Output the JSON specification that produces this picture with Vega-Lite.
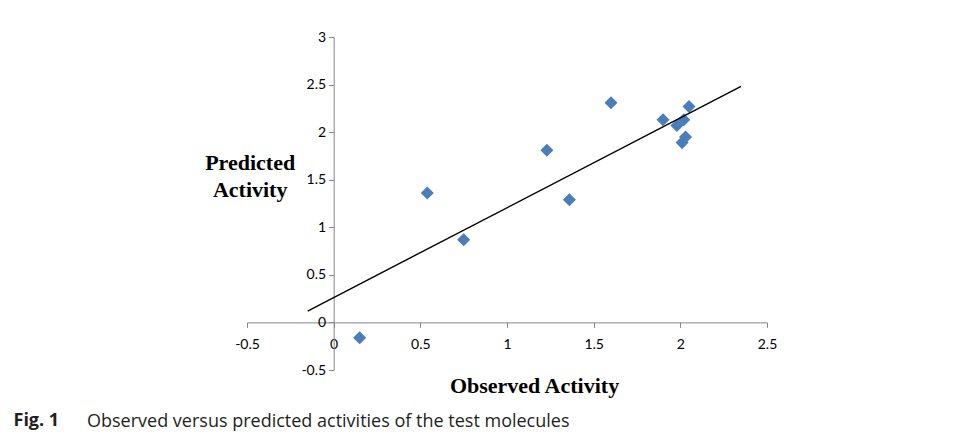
{
  "$schema": "https://vega.github.io/schema/vega-lite/v6.json",
  "width": 520,
  "height": 333,
  "autosize": "none",
  "padding": {"left": 247, "top": 37, "right": 191, "bottom": 64},
  "background": "white",
  "config": {"view": {"stroke": null}},
  "title": {
    "text": "Observed versus predicted activities of the test molecules",
    "orient": "bottom",
    "anchor": "start",
    "frame": "group",
    "dx": -160,
    "offset": -16,
    "font": "Open Sans",
    "fontSize": 18,
    "fontWeight": "normal",
    "color": "#231f20"
  },
  "resolve": {"axis": {"x": "independent"}},
  "layer": [
    {
      "data": {"values": [
        {"observed": 0.15, "predicted": -0.16},
        {"observed": 0.54, "predicted": 1.36},
        {"observed": 0.75, "predicted": 0.87},
        {"observed": 1.23, "predicted": 1.81},
        {"observed": 1.36, "predicted": 1.29},
        {"observed": 1.6, "predicted": 2.31},
        {"observed": 1.9, "predicted": 2.13},
        {"observed": 1.98, "predicted": 2.07},
        {"observed": 2.02, "predicted": 2.13},
        {"observed": 2.05, "predicted": 2.27},
        {"observed": 2.01, "predicted": 1.89},
        {"observed": 2.03, "predicted": 1.95}
      ]},
      "mark": {"type": "point", "shape": "diamond", "filled": true, "size": 170, "color": "#4A7EBB", "opacity": 1},
      "encoding": {
        "x": {
          "field": "observed", "type": "quantitative",
          "scale": {"domain": [-0.5, 2.5], "nice": false, "zero": false},
          "axis": {
            "title": "Observed Activity",
            "orient": "bottom",
            "values": [-0.5, 0, 0.5, 1, 1.5, 2, 2.5],
            "labelExpr": "'' + datum.value",
            "offset": -47.6,
            "grid": false,
            "domainColor": "#868686",
            "tickColor": "#868686",
            "tickSize": 5,
            "labelFont": "Lato",
            "labelFontSize": 14,
            "labelColor": "black",
            "labelPadding": 10,
            "labelFlush": false,
            "labelOverlap": false,
            "titleFont": "Liberation Serif",
            "titleFontSize": 22,
            "titleFontWeight": "bold",
            "titleColor": "black",
            "titleX": 287,
            "titleY": 62.6,
            "titleAlign": "center",
            "titleBaseline": "middle"
          }
        },
        "y": {
          "field": "predicted", "type": "quantitative",
          "scale": {"domain": [-0.5, 3], "nice": false, "zero": false},
          "axis": {
            "title": ["Predicted", "Activity"],
            "values": [-0.5, 0, 0.5, 1, 1.5, 2, 2.5, 3],
            "labelExpr": "'' + datum.value",
            "offset": -86.67,
            "grid": false,
            "domainColor": "#868686",
            "tickColor": "#868686",
            "tickSize": 5,
            "labelFont": "Lato",
            "labelFontSize": 14,
            "labelColor": "black",
            "labelPadding": 3,
            "labelFlush": false,
            "labelOverlap": false,
            "titleFont": "Liberation Serif",
            "titleFontSize": 22,
            "titleFontWeight": "bold",
            "titleColor": "black",
            "titleAngle": 0,
            "titleX": -84,
            "titleY": 125,
            "titleAlign": "center",
            "titleBaseline": "middle",
            "titleLineHeight": 27
          }
        }
      }
    },
    {
      "data": {"values": [
        {"observed": -0.15, "predicted": 0.12},
        {"observed": 2.35, "predicted": 2.48}
      ]},
      "mark": {"type": "line", "color": "black", "strokeWidth": 1.4},
      "encoding": {
        "x": {
          "field": "observed", "type": "quantitative",
          "axis": {
            "orient": "bottom",
            "title": "Fig. 1",
            "domain": false,
            "ticks": false,
            "labels": false,
            "grid": false,
            "offset": 0,
            "titleX": -234,
            "titleY": 50,
            "titleAlign": "left",
            "titleBaseline": "middle",
            "titleFont": "Open Sans",
            "titleFontSize": 18,
            "titleFontWeight": "bold",
            "titleColor": "#231f20"
          }
        },
        "y": {"field": "predicted", "type": "quantitative"}
      }
    }
  ]
}
